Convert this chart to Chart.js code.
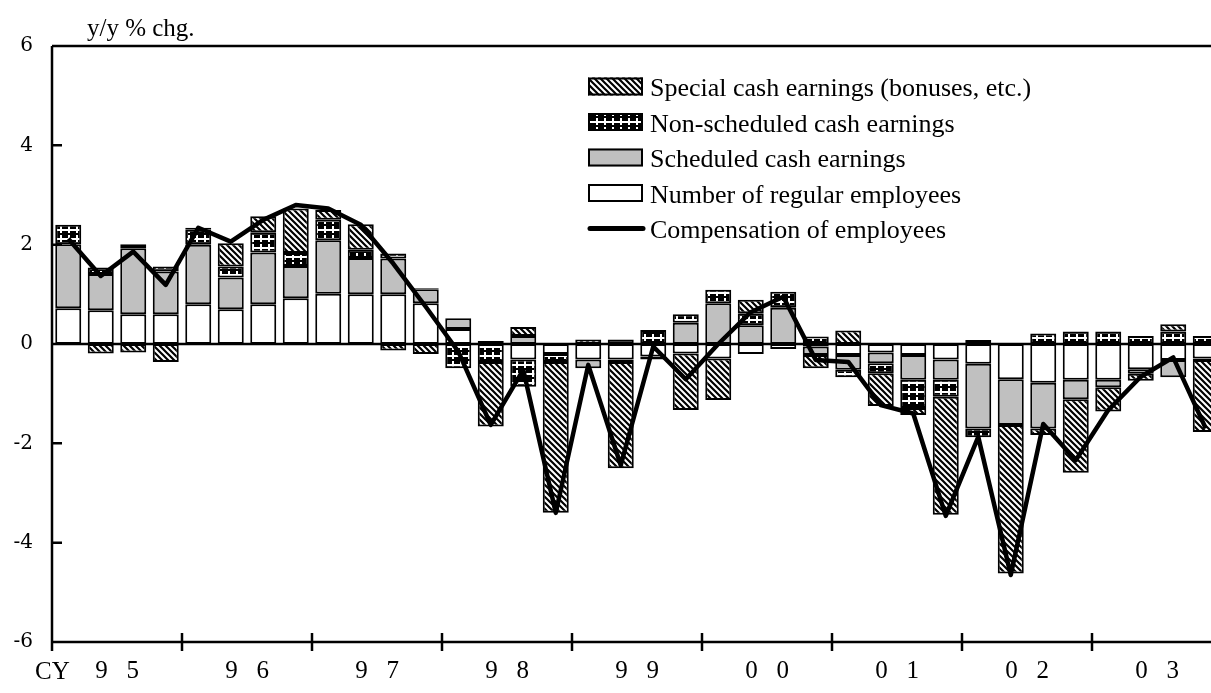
<!DOCTYPE html>
<html>
<head>
<meta charset="utf-8">
<script src="https://cdn.jsdelivr.net/npm/chart.js@4.4.1/dist/chart.umd.min.js"></script>
<style>
  html, body { margin: 0; padding: 0; background: #fff; overflow: hidden; }
  #wrap { width: 1240px; height: 693px; }
</style>
</head>
<body>
<div id="wrap"><canvas id="grafico" width="1240" height="693"></canvas></div>
<script>
// quarters CY1995 Q1 .. CY2003 Q4
const quarters = [
    '95/1', '95/2', '95/3', '95/4', '96/1', '96/2', '96/3', '96/4',
    '97/1', '97/2', '97/3', '97/4', '98/1', '98/2', '98/3', '98/4',
    '99/1', '99/2', '99/3', '99/4', '00/1', '00/2', '00/3', '00/4',
    '01/1', '01/2', '01/3', '01/4', '02/1', '02/2', '02/3', '02/4',
    '03/1', '03/2', '03/3', '03/4'
];
const years = ['9   5', '9   6', '9   7', '9   8', '9   9', '0   0', '0   1', '0   2', '0   3'];

// contributions, y/y % chg.
const regularEmployees = [0.72, 0.68, 0.60, 0.60, 0.80, 0.70, 0.80, 0.92, 1.01, 1.00, 1.00, 0.82,
    0.30, 0.06, -0.31, -0.20, -0.31, -0.31, -0.25, -0.19, -0.29, -0.20, -0.10, -0.05,
    -0.22, -0.17, -0.22, -0.31, -0.40, -0.71, -0.78, -0.72, -0.72, -0.51, -0.32, -0.29];
const scheduled = [1.29, 0.73, 1.33, 0.86, 1.20, 0.64, 1.04, 0.65, 1.08, 0.73, 0.72, 0.28,
    0.22, 0, 0.16, 0, -0.18, -0.05, -0.06, 0.43, 0.82, 0.38, 0.73, -0.17,
    -0.30, -0.22, -0.50, -0.41, -1.30, -0.92, -0.92, -0.39, -0.15, -0.09, -0.35, -0.03];
const nonScheduled = [0.39, 0.13, 0.08, 0.10, 0.30, 0.22, 0.41, 0.26, 0.41, 0.17, 0.10, 0.02,
    -0.49, -0.36, -0.55, -0.16, 0, 0.09, 0.28, 0.17, 0.27, 0.24, 0.32, 0.15,
    -0.15, -0.20, -0.57, -0.34, -0.18, 0, 0.21, 0.25, 0.25, 0.16, 0.25, 0.16];
const special = [0, -0.19, -0.17, -0.36, 0.04, 0.47, 0.32, 0.90, 0.20, 0.51, -0.13, -0.20,
    0, -1.30, 0.18, -3.04, 0.09, -2.14, 0, -1.14, -0.84, 0.27, 0, -0.27,
    0.27, -0.66, -0.14, -2.38, 0.08, -2.99, -0.13, -1.48, -0.49, -0.14, 0.15, -1.45];
const compensation = [2.12, 1.37, 1.86, 1.19, 2.34, 2.06, 2.50, 2.80, 2.73, 2.40, 1.62, 0.75,
    -0.15, -1.63, -0.52, -3.40, -0.42, -2.44, -0.05, -0.71, 0.00, 0.64, 0.95, -0.32,
    -0.36, -1.23, -1.40, -3.46, -1.87, -4.65, -1.61, -2.34, -1.33, -0.66, -0.27, -1.70];

const canvas = document.getElementById('grafico');
const ctx = canvas.getContext('2d');

function hatchPattern() {
    const c = document.createElement('canvas');
    c.width = 6; c.height = 6;
    const g = c.getContext('2d');
    g.fillStyle = '#fff';
    g.fillRect(0, 0, 6, 6);
    g.strokeStyle = '#000';
    g.lineWidth = 2.2;
    g.beginPath();
    g.moveTo(-1, -1); g.lineTo(7, 7);
    g.moveTo(-1, 5); g.lineTo(1, 7);
    g.moveTo(5, -1); g.lineTo(7, 1);
    g.stroke();
    return ctx.createPattern(c, 'repeat');
}

function gridPattern() {
    const c = document.createElement('canvas');
    c.width = 8; c.height = 9;
    const g = c.getContext('2d');
    g.fillStyle = '#000';
    g.fillRect(0, 0, 8, 9);
    g.fillStyle = '#fff';
    g.fillRect(0, 4, 8, 2);
    g.fillRect(4, 1, 2, 7);
    return ctx.createPattern(c, 'repeat');
}

const hatch = hatchPattern();
const grid = gridPattern();

const legendItems = [
    { text: 'Special cash earnings (bonuses, etc.)', fill: hatch },
    { text: 'Non-scheduled cash earnings', fill: grid },
    { text: 'Scheduled cash earnings', fill: '#c0c0c0' },
    { text: 'Number of regular employees', fill: '#ffffff' },
    { text: 'Compensation of employees', line: true }
];

// axis frame, zero line and tick marks
const frame = {
    id: 'frame',
    beforeDatasetsDraw(chart) {
        const { ctx, chartArea: a, scales: { y, x2 } } = chart;
        ctx.save();
        ctx.strokeStyle = '#000';
        ctx.lineWidth = 2.5;
        ctx.beginPath();
        ctx.moveTo(a.left, a.top); ctx.lineTo(a.right, a.top);
        ctx.moveTo(a.left, a.top); ctx.lineTo(a.left, a.bottom);
        ctx.moveTo(a.left, a.bottom); ctx.lineTo(a.right, a.bottom);
        const y0 = y.getPixelForValue(0);
        ctx.moveTo(a.left, y0); ctx.lineTo(a.right, y0);
        y.ticks.forEach(t => {
            const py = y.getPixelForValue(t.value);
            ctx.moveTo(a.left, py); ctx.lineTo(a.left + 10, py);
        });
        for (let i = 0; i <= years.length; i++) {
            const px = x2.getPixelForValue(i - 0.5);
            ctx.moveTo(px, a.bottom - 9); ctx.lineTo(px, a.bottom + 9);
        }
        ctx.stroke();
        ctx.restore();
    },
    afterDraw(chart) {
        const { ctx } = chart;
        ctx.save();
        ctx.fillStyle = '#000';
        ctx.textBaseline = 'alphabetic';
        ctx.font = '25px "Liberation Serif"';
        ctx.fillText('y/y % chg.', 87, 36);
        ctx.textBaseline = 'middle';
        ctx.fillText('CY', 35, 672);

        ctx.font = '26px "Liberation Serif"';
        legendItems.forEach((item, i) => {
            const cy = 86.5 + i * 35.5;
            if (item.line) {
                ctx.strokeStyle = '#000';
                ctx.lineWidth = 5;
                ctx.lineCap = 'round';
                ctx.beginPath();
                ctx.moveTo(590, cy); ctx.lineTo(643, cy);
                ctx.stroke();
            } else {
                ctx.fillStyle = item.fill;
                ctx.fillRect(588, cy - 9, 55, 18);
                ctx.strokeStyle = '#000';
                ctx.lineWidth = 2;
                ctx.strokeRect(589, cy - 8, 53, 16);
            }
            ctx.fillStyle = '#000';
            ctx.textBaseline = 'alphabetic';
            ctx.fillText(item.text, 650, cy + 9.5);
        });
        ctx.restore();
    }
};

const barStyle = {
    type: 'bar',
    borderColor: '#000',
    borderWidth: 2,
    borderSkipped: false,
    barPercentage: 0.8,
    categoryPercentage: 1,
    stack: 'earnings',
    order: 1
};

new Chart(canvas, {
    data: {
        labels: quarters,
        datasets: [
            {
                type: 'line',
                label: 'Compensation of employees',
                data: compensation,
                borderColor: '#000',
                borderWidth: 4.5,
                borderJoinStyle: 'round',
                pointRadius: 0,
                tension: 0,
                stack: 'line',
                order: 0
            },
            { ...barStyle, label: 'Number of regular employees', data: regularEmployees, backgroundColor: '#ffffff' },
            { ...barStyle, label: 'Scheduled cash earnings', data: scheduled, backgroundColor: '#c0c0c0' },
            { ...barStyle, label: 'Non-scheduled cash earnings', data: nonScheduled, backgroundColor: grid },
            { ...barStyle, label: 'Special cash earnings (bonuses, etc.)', data: special, backgroundColor: hatch }
        ]
    },
    options: {
        responsive: false,
        animation: false,
        devicePixelRatio: 1,
        layout: { padding: { top: 46, right: 18, left: 0, bottom: 0 } },
        plugins: {
            legend: { display: false },
            tooltip: { enabled: false }
        },
        scales: {
            x: {
                type: 'category',
                display: false,
                stacked: true,
                offset: true
            },
            x2: {
                type: 'category',
                labels: years,
                position: 'bottom',
                offset: true,
                grid: { display: false, drawTicks: false },
                border: { display: false },
                ticks: {
                    color: '#000',
                    font: { family: 'Liberation Serif', size: 25 },
                    padding: 14,
                    maxRotation: 0,
                    autoSkip: false
                },
                afterFit(scale) { scale.height = 51; }
            },
            y: {
                stacked: true,
                min: -6,
                max: 6,
                grid: { display: false, drawTicks: false },
                border: { display: false },
                ticks: {
                    stepSize: 2,
                    color: '#000',
                    font: { family: 'DejaVu Serif', size: 20 },
                    padding: 19
                },
                afterFit(scale) { scale.width = 52; }
            }
        }
    },
    plugins: [frame]
});
</script>
</body>
</html>
